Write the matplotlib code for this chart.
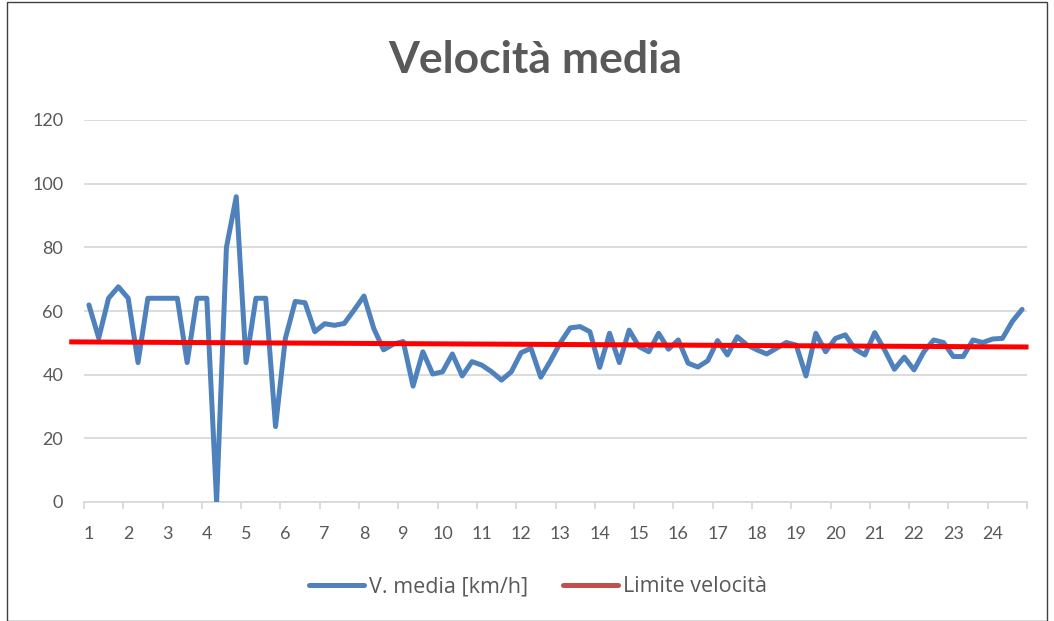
import matplotlib
matplotlib.use("Agg")
import matplotlib.pyplot as plt
from matplotlib.lines import Line2D
from matplotlib.patches import Rectangle

# ---- data ----
title = "Velocità media"
series_speed_name = "V. media [km/h]"
series_limit_name = "Limite velocità"
hour_labels = [str(h) for h in range(1, 25)]
speed = [61.9, 51.5, 64.0, 67.6, 64.0, 43.8, 64.0, 64.0, 64.0, 64.0, 43.8, 64.0,
         64.0, 0.0, 80.0, 95.9, 43.8, 64.0, 64.0, 23.7, 51.4, 63.0, 62.6, 53.5,
         56.0, 55.5, 56.1, 60.3, 64.7, 54.5, 47.8, 49.6, 50.4, 36.4, 47.2, 40.2,
         40.9, 46.5, 39.6, 44.1, 43.0, 40.9, 38.3, 40.9, 46.9, 48.3, 39.2, 44.4,
         50.1, 54.7, 55.1, 53.5, 42.3, 53.0, 43.8, 54.0, 48.8, 47.2, 53.0, 48.0,
         50.9, 43.6, 42.4, 44.4, 50.7, 46.2, 51.9, 49.3, 47.8, 46.5, 48.3, 50.1,
         49.3, 39.6, 53.0, 47.2, 51.4, 52.5, 48.0, 46.2, 53.2, 47.8, 41.7, 45.5,
         41.5, 47.2, 50.9, 50.1, 45.7, 45.7, 50.9, 50.1, 51.2, 51.4, 56.7, 60.5]
limit_x = [-1.75, 95.4]
limit_y = [50.3, 48.7]
y_ticks = [0, 20, 40, 60, 80, 100, 120]

# ---- style ----
FONT = ["Lato", "DejaVu Sans"]
LEG_FONT = ["Open Sans", "DejaVu Sans"]
plt.rcParams["font.family"] = FONT
TXT = "#595959"
GRID = "#D9D9D9"
BLUE = "#4F81BD"
RED = "#FF0000"
RED_LEG = "#C0504D"

W, H = 1054, 621
fig = plt.figure(figsize=(W / 100, H / 100), dpi=100)
fig.patches.append(Rectangle((7 / W, 0), (1047 - 7) / W, 1 - 2 / H,
                             transform=fig.transFigure, fill=False,
                             edgecolor="#404040", linewidth=1.0))

ax = fig.add_axes([84 / W, 1 - 502 / H, (1027 - 84) / W, (502 - 120) / H])
n = len(speed)
x = list(range(n))
ax.plot(x, speed, color=BLUE, linewidth=3.6, solid_joinstyle="round",
        solid_capstyle="round", zorder=3)
ax.plot(limit_x, limit_y, color=RED, linewidth=3.6, clip_on=False, zorder=4)

ax.set_xlim(-0.5, n - 0.5)
ax.set_ylim(0, 120)
ax.set_yticks(y_ticks)
ax.set_yticklabels([str(v) for v in y_ticks])
ax.set_xticks(list(range(0, n, 4)))
ax.set_xticklabels(hour_labels)
ax.set_xticks([i - 0.5 for i in range(0, n + 1, 4)], minor=True)

for s in ["top", "right", "left"]:
    ax.spines[s].set_visible(False)
ax.spines["bottom"].set_color(GRID)
ax.spines["bottom"].set_linewidth(1.3)
ax.yaxis.grid(True, color=GRID, linewidth=1.3)
ax.set_axisbelow(True)
ax.tick_params(axis="y", length=0, pad=15, labelsize=13, labelcolor=TXT)
ax.tick_params(axis="x", which="major", length=0, pad=17, labelsize=13,
               labelcolor=TXT)
ax.tick_params(axis="x", which="minor", length=5, width=1.3, color=GRID,
               direction="out")

fig.text(535 / W, 1 - 60 / H, title, ha="center", va="center", fontsize=32,
         fontweight="bold", color=TXT)

handles = [Line2D([], [], color=BLUE, linewidth=3.6, solid_capstyle="round"),
           Line2D([], [], color=RED_LEG, linewidth=3.6, solid_capstyle="round")]
fig.legend(handles, [series_speed_name, series_limit_name], loc="center",
           bbox_to_anchor=(538 / W, 1 - 587 / H), ncol=2, frameon=False,
           prop={"family": LEG_FONT, "size": 15.5}, labelcolor=TXT,
           handlelength=2.55, handletextpad=0.23, columnspacing=1.6)

fig.savefig("out.png", dpi=100)
